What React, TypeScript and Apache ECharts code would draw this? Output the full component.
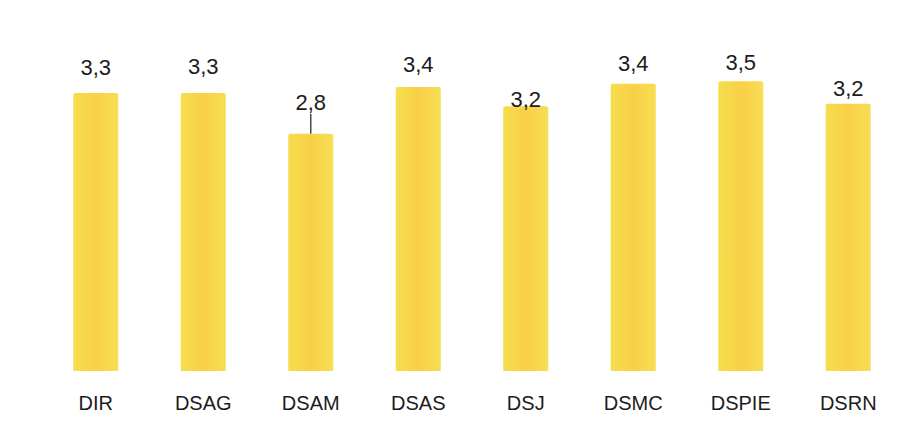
import React, { useEffect, useRef } from "react";
import * as echarts from "echarts";

const categories = ["DIR", "DSAG", "DSAM", "DSAS", "DSJ", "DSMC", "DSPIE", "DSRN"];
const values = [3.33, 3.33, 2.84, 3.4, 3.17, 3.44, 3.47, 3.2];
const labelShift = [-9, -10, -15, -7, 9, -4, -3, 1];
const leaderOn = ["DSAM"];

export default function App() {
  const ref = useRef<HTMLDivElement>(null);
  useEffect(() => {
    if (!ref.current) return;
    const chart = echarts.init(ref.current, null, { renderer: "svg" });
    const barColor = new echarts.graphic.LinearGradient(0, 0, 1, 0, [
      { offset: 0, color: "#F5DE4E" },
      { offset: 0.5, color: "#F9D047" },
      { offset: 1, color: "#F6DE54" },
    ]);
    chart.setOption({
      animation: false,
      backgroundColor: "#ffffff",
      grid: { left: 42, right: 17, top: 37, bottom: 56, containLabel: false },
      xAxis: {
        type: "category",
        data: categories,
        axisLine: { show: false },
        axisTick: { show: false },
        axisLabel: {
          margin: 22,
          fontSize: 20,
          color: "#1c1c1c",
          fontFamily: "Liberation Sans, Arial, sans-serif",
        },
      },
      yAxis: {
        type: "value",
        min: 0,
        max: 4,
        show: false,
        splitLine: { show: false },
      },
      series: [
        {
          type: "bar",
          barWidth: 45,
          data: values.map((v, i) => ({
            value: v,
            labelLine: {
              show: leaderOn.includes(categories[i]),
              lineStyle: { color: "#4a4a3a", width: 1.5 },
            },
          })),
          itemStyle: { color: barColor, borderRadius: [2, 2, 0, 0] },
          label: {
            show: true,
            position: "top",
            distance: 5,
            fontSize: 22,
            color: "#1c1c1c",
            fontFamily: "Liberation Sans, Arial, sans-serif",
            formatter: (p: any) => p.value.toFixed(1).replace(".", ","),
          },
          labelLayout: (p: any) => ({ dy: labelShift[p.dataIndex] }),
        },
      ],
    });
    return () => chart.dispose();
  }, []);
  return (
    <div
      ref={ref}
      style={{ position: "absolute", left: 0, top: 0, width: 919, height: 427 }}
    />
  );
}
